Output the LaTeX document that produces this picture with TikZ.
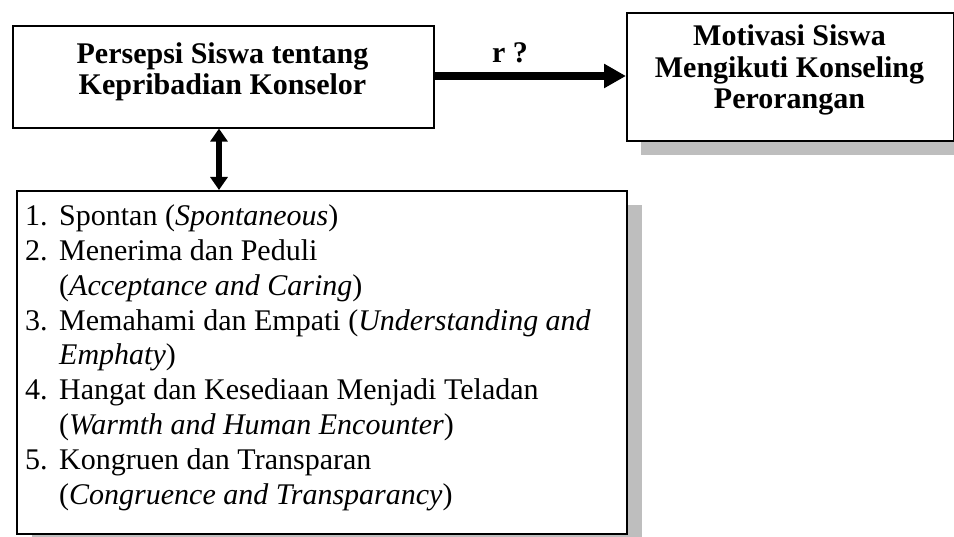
\documentclass[tikz,border=0pt]{standalone}
\usepackage{fontspec}
\setmainfont{Liberation Serif}
\usetikzlibrary{arrows.meta}
\definecolor{shadowgray}{RGB}{190,190,190}
\tikzset{
  box/.style={draw=black, line width=1.6pt, fill=white},
  headtext/.style={font=\fontsize{30}{31.5}\selectfont\bfseries, align=center, inner sep=0pt},
  listline/.style={font=\fontsize{30}{34}\selectfont, anchor=base west, inner sep=0pt},
  bigarrow/.style={line width=8pt, -{Triangle[length=22pt,width=23pt]}},
  dblarrow/.style={line width=6pt, {Triangle[length=13pt,width=17pt]}-{Triangle[length=13pt,width=17pt]}}
}
\begin{document}
\begin{tikzpicture}[x=1pt,y=-1pt]
\useasboundingbox (0,0) rectangle (954,537);
\begin{scope}
\clip (0,0) rectangle (954,537);
% shadows
\fill[shadowgray] (641,27) rectangle (968,155);
\fill[shadowgray] (32,205) rectangle (642,545);
\end{scope}
% boxes
\node[box, minimum width=421pt, minimum height=102pt, anchor=north west, inner sep=0pt] (left) at (12,25) {};
\node[box, minimum width=327pt, minimum height=128pt, anchor=north west, inner sep=0pt] (right) at (626,12) {};
\node[box, minimum width=610pt, minimum height=343pt, anchor=north west, inner sep=0pt] (list) at (16,190) {};
% box texts
\node[headtext] (lefttext) at (222.5,72) {Persepsi Siswa tentang\\Kepribadian Konselor};
\node[headtext] (righttext) at (789.5,70) {Motivasi Siswa\\Mengikuti Konseling\\Perorangan};
% connectors
\draw[bigarrow] (left.east |- 0,76) -- (right.west |- 0,76);
\node[font=\fontsize{30}{31}\selectfont\bfseries, inner sep=0pt] (r) at (510,53) {r ?};
\draw[dblarrow] (left.south -| 219,0) -- (list.north -| 219,0);
% list
\def\indentw{34pt}
\node[listline] (l1) at (25,226) {\makebox[\indentw][l]{1.}Spontan (\textit{Spontaneous})};
\node[listline] (l2) at (25,260.75) {\makebox[\indentw][l]{2.}Menerima dan Peduli};
\node[listline] (l3) at (25,295.5) {\makebox[\indentw][l]{}(\textit{Acceptance and Caring})};
\node[listline] (l4) at (25,330.25) {\makebox[\indentw][l]{3.}Memahami dan Empati (\textit{Understanding and}};
\node[listline] (l5) at (25,365) {\makebox[\indentw][l]{}\textit{Emphaty})};
\node[listline] (l6) at (25,399.75) {\makebox[\indentw][l]{4.}Hangat dan Kesediaan Menjadi Teladan};
\node[listline] (l7) at (25,434.5) {\makebox[\indentw][l]{}(\textit{Warmth and Human Encounter})};
\node[listline] (l8) at (25,469.25) {\makebox[\indentw][l]{5.}Kongruen dan Transparan};
\node[listline] (l9) at (25,504) {\makebox[\indentw][l]{}(\textit{Congruence and Transparancy})};
\end{tikzpicture}
\end{document}
